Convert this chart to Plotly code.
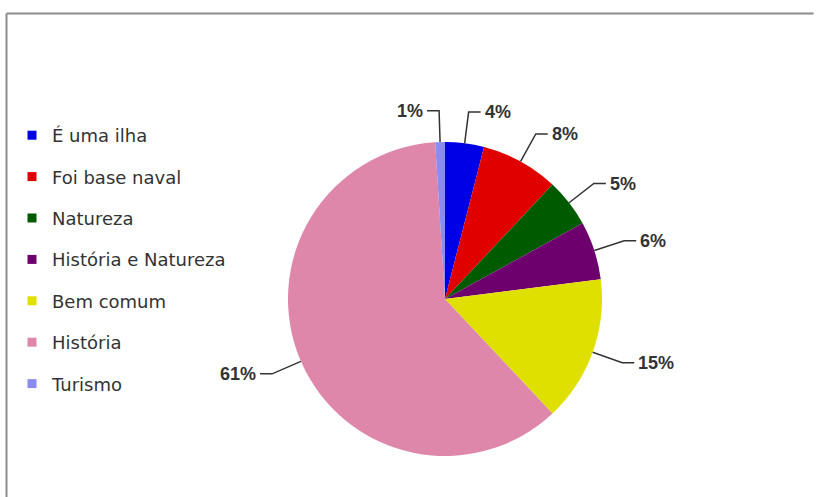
import math
import plotly.graph_objects as go

# ---- data ----
categories = ["É uma ilha", "Foi base naval", "Natureza", "História e Natureza",
              "Bem comum", "História", "Turismo"]
values = [4, 8, 5, 6, 15, 61, 1]
colors = ["#0000E6", "#E00000", "#005A00", "#6E006E", "#E0E000", "#DE87AA", "#8C8CF0"]

# ---- geometry (pixels) ----
W, H = 816, 497
cx, cy, R = 445, 299, 157

def px2paper(x, y):
    return x / W, 1 - y / H

fig = go.Figure()
fig.add_trace(go.Pie(
    labels=categories, values=values, sort=False, direction="clockwise",
    rotation=0, textinfo="none", showlegend=False, hoverinfo="label+percent",
    marker=dict(colors=colors, line=dict(width=0)),
    domain=dict(x=[(cx - R) / W, (cx + R) / W], y=[1 - (cy + R) / H, 1 - (cy - R) / H]),
))

# legend entries (one group each so they can be spaced)
for i, (c, col) in enumerate(zip(categories, colors)):
    fig.add_trace(go.Scatter(x=[None], y=[None], mode="markers", name=c,
                             legendgroup=str(i),
                             marker=dict(symbol="square", size=9, color=col)))

# percentage labels with leader lines
total = sum(values)
cum = 0
shapes = []
annotations = []
for v in values:
    f = (cum + v / 2) / total
    cum += v
    th = 2 * math.pi * f
    s, c = math.sin(th), math.cos(th)
    ex, ey = cx + R * s, cy - R * c
    bx, by = cx + 1.2 * R * s, cy - 1.2 * R * c
    side = 1 if s >= 0 else -1
    tx = bx + side * 12
    p1, p2, p3 = px2paper(ex, ey), px2paper(bx, by), px2paper(tx, by)
    shapes.append(dict(type="path", xref="paper", yref="paper",
                       path=f"M {p1[0]} {p1[1]} L {p2[0]} {p2[1]} L {p3[0]} {p3[1]}",
                       line=dict(color="#333333", width=1.5)))
    ax, ay = px2paper(tx + side * 2, by)
    annotations.append(dict(x=ax, y=ay, xref="paper", yref="paper", showarrow=False,
                            text=f"{round(v / total * 100)}%",
                            xanchor="left" if side > 0 else "right", yanchor="middle",
                            font=dict(family="Liberation Sans", size=18, color="#333333")))

# chart frame (only top and left edges fall inside the picture)
fx0, fy1 = px2paper(6.5, 13.5)
shapes.append(dict(type="line", xref="paper", yref="paper", x0=fx0, y0=fy1, x1=0.997, y1=fy1,
                   line=dict(color="#8C8C8C", width=2), layer="below"))
shapes.append(dict(type="line", xref="paper", yref="paper", x0=fx0, y0=0.0, x1=fx0, y1=fy1,
                   line=dict(color="#8C8C8C", width=2), layer="below"))

fig.update_layout(
    width=W, height=H, margin=dict(l=0, r=0, t=0, b=0),
    paper_bgcolor="white", plot_bgcolor="rgba(0,0,0,0)",
    xaxis=dict(visible=False, showline=False, zeroline=False, showgrid=False),
    yaxis=dict(visible=False, showline=False, zeroline=False, showgrid=False),
    shapes=shapes, annotations=annotations,
    legend=dict(x=12 / W, y=1 - 117 / H, xanchor="left", yanchor="top",
                tracegroupgap=15, bgcolor="rgba(0,0,0,0)",
                font=dict(family="DejaVu Sans", size=18, color="#333333")),
)
for a in fig.layout.annotations:
    a.font.weight = "bold"

fig.write_html("out.html", config={"displayModeBar": False})
